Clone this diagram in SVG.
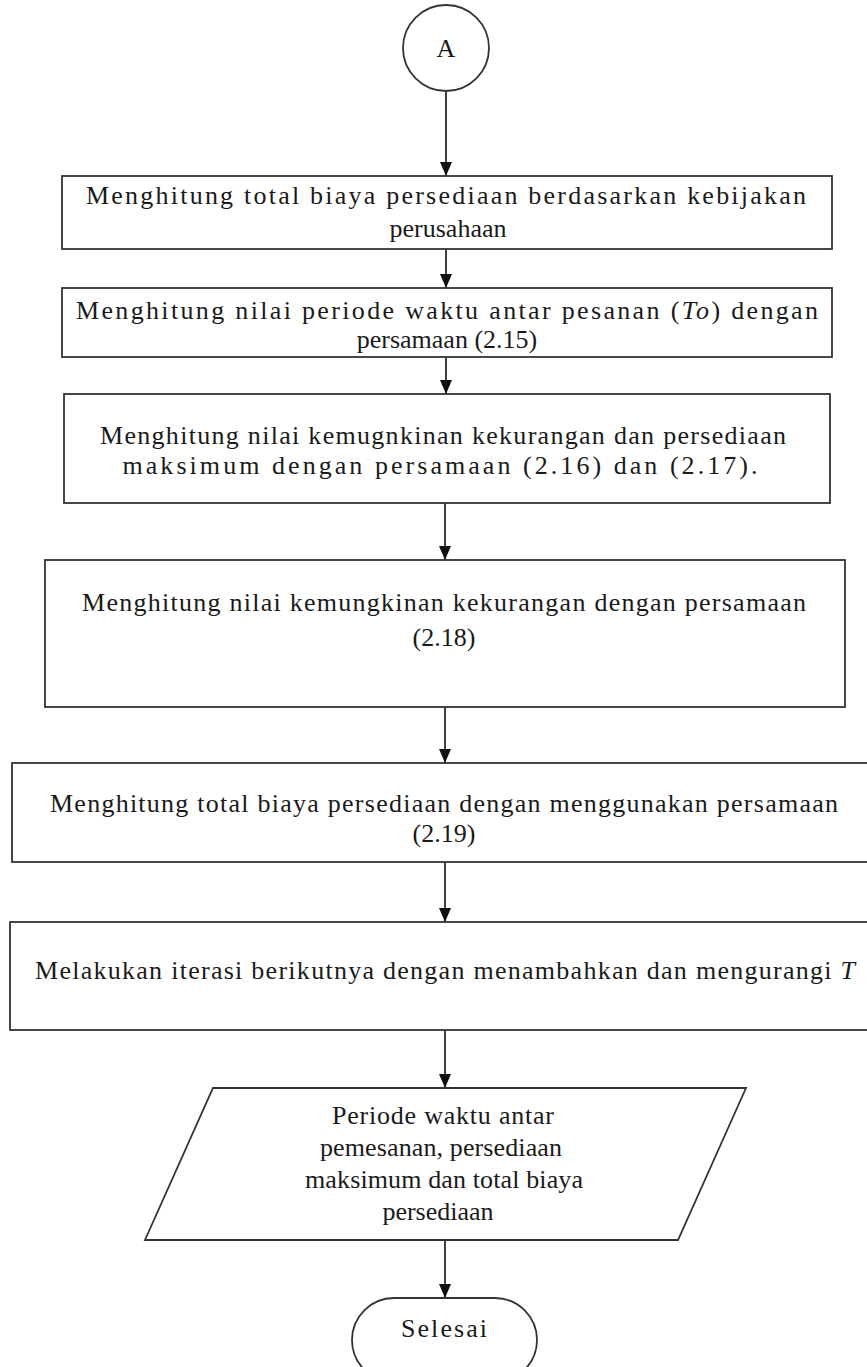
<svg xmlns="http://www.w3.org/2000/svg" width="867" height="1367" viewBox="0 0 867 1367">
<style>
.shape{fill:#fff;stroke:#333;stroke-width:1.8}
.t{font-family:"Liberation Serif","Times New Roman",serif;font-size:26px;fill:#1a1a1a;text-anchor:middle}
.i{font-style:italic}
.conn line{stroke:#111;stroke-width:1.6}
</style>
<defs>
<marker id="ah" viewBox="0 0 14 12" refX="14" refY="6" markerWidth="14" markerHeight="12" markerUnits="userSpaceOnUse" orient="auto">
<path d="M0,0 L14,6 L0,12 Z" fill="#111"/>
</marker>
</defs>
<rect width="867" height="1367" fill="#fff"/>
<g id="connectors" class="conn">
<line x1="446" y1="92" x2="446" y2="176" marker-end="url(#ah)"/>
<line x1="446" y1="249" x2="446" y2="288" marker-end="url(#ah)"/>
<line x1="446" y1="357" x2="446" y2="394" marker-end="url(#ah)"/>
<line x1="445" y1="503" x2="445" y2="560" marker-end="url(#ah)"/>
<line x1="445" y1="707" x2="445" y2="763" marker-end="url(#ah)"/>
<line x1="445" y1="862" x2="445" y2="922" marker-end="url(#ah)"/>
<line x1="445" y1="1030" x2="445" y2="1088" marker-end="url(#ah)"/>
<line x1="445" y1="1240" x2="445" y2="1298" marker-end="url(#ah)"/>
</g>
<g id="nodeA">
<circle class="shape" cx="446" cy="48" r="43"/>
<text class="t" x="446" y="57">A</text>
</g>
<g id="box1">
<rect class="shape" x="62" y="176" width="770" height="73"/>
<text class="t" x="446" y="204" textLength="720" lengthAdjust="spacing">Menghitung total biaya persediaan berdasarkan kebijakan</text>
<text class="t" x="448" y="237">perusahaan</text>
</g>
<g id="box2">
<rect class="shape" x="62" y="288" width="770" height="69"/>
<text class="t" x="447" y="319" textLength="742" lengthAdjust="spacing">Menghitung nilai periode waktu antar pesanan (<tspan class="i">To</tspan>) dengan</text>
<text class="t" x="447" y="348">persamaan (2.15)</text>
</g>
<g id="box3">
<rect class="shape" x="64" y="394" width="766" height="109"/>
<text class="t" x="443" y="444" textLength="686" lengthAdjust="spacing">Menghitung nilai kemugnkinan kekurangan dan persediaan</text>
<text class="t" x="440" y="474" textLength="635" lengthAdjust="spacing">maksimum dengan persamaan (2.16) dan (2.17).</text>
</g>
<g id="box4">
<rect class="shape" x="45" y="560" width="800" height="147"/>
<text class="t" x="444" y="611" textLength="724" lengthAdjust="spacing">Menghitung nilai kemungkinan kekurangan dengan persamaan</text>
<text class="t" x="444" y="646">(2.18)</text>
</g>
<g id="box5">
<rect class="shape" x="12" y="763" width="870" height="99"/>
<text class="t" x="444" y="812" textLength="788" lengthAdjust="spacing">Menghitung total biaya persediaan dengan menggunakan persamaan</text>
<text class="t" x="444" y="842">(2.19)</text>
</g>
<g id="box6">
<rect class="shape" x="10" y="922" width="872" height="108"/>
<text class="t" x="445" y="979" textLength="820" lengthAdjust="spacing">Melakukan iterasi berikutnya dengan menambahkan dan mengurangi <tspan class="i">T</tspan></text>
</g>
<g id="output">
<polygon class="shape" points="213,1088 746,1088 678,1240 145,1240"/>
<text class="t" x="443" y="1124" textLength="222" lengthAdjust="spacing">Periode waktu antar</text>
<text class="t" x="441" y="1156" textLength="242" lengthAdjust="spacing">pemesanan, persediaan</text>
<text class="t" x="444" y="1188" textLength="278" lengthAdjust="spacing">maksimum dan total biaya</text>
<text class="t" x="438" y="1220">persediaan</text>
</g>
<g id="end">
<rect class="shape" x="352" y="1298" width="185" height="84" rx="42" ry="42"/>
<text class="t" x="444" y="1337" textLength="86" lengthAdjust="spacing">Selesai</text>
</g>
</svg>
